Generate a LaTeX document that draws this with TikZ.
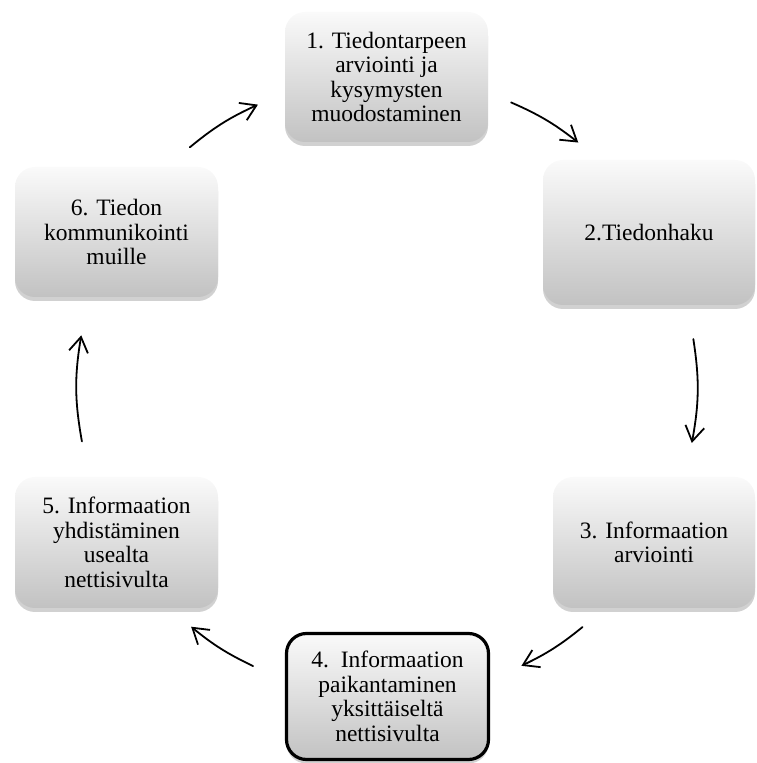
\documentclass[tikz,border=0pt]{standalone}
\usepackage{fontspec}
\setmainfont{Liberation Serif}
\usepackage{tikz}
\usetikzlibrary{arrows.meta, calc, shadows}
\definecolor{ink}{HTML}{000000}
\definecolor{boxtop}{HTML}{FAFAFA}
\definecolor{boxbottom}{HTML}{C2C2C2}
\tikzset{
  stage/.style      = {rectangle, rounded corners=20pt, align=center, inner sep=4pt,
                       minimum width=203pt, minimum height=130pt, draw=none,
                       top color=boxtop, bottom color=boxbottom, text=ink,
                       font=\fontsize{23.5}{24.5}\selectfont,
                       drop shadow={shadow xshift=0pt, shadow yshift=-4pt, opacity=0.3, fill=black!60}},
  stagehl/.style    = {stage, draw=ink, line width=3.2pt},
  cyclearrow/.style = {-{Straight Barb[length=15pt, width=19pt]}, draw=ink, line width=1.8pt,
                       line cap=round, line join=round},
}

\begin{document}
\begin{tikzpicture}[x=1pt, y=1pt]
  \useasboundingbox (0,0) rectangle (757,763);
  \coordinate (hub) at (387,376.5);

  \node[stage] (plan) at (386.5,686) {1. Tiedontarpeen\\arviointi ja\\kysymysten\\muodostaminen};
  \node[stage, minimum width=212pt, minimum height=145pt] (search) at (649,530.5) {2.Tiedonhaku};
  \node[stage, minimum width=202pt, minimum height=131pt] (judge) at (654,220.5) {3. Informaation\\arviointi};
  \node[stagehl, minimum width=202pt, minimum height=126pt] (locate) at (387.5,66.5) {4.\ \ Informaation\\paikantaminen\\yksittäiseltä\\nettisivulta};
  \node[stage, minimum height=131pt] (merge) at (116.5,220.5) {5. Informaation\\yhdistäminen\\usealta\\nettisivulta};
  \node[stage] (share) at (116.5,531) {6. Tiedon\\kommunikointi\\muille};

  % arrows sit on one ring round the hub
  \foreach \nm/\s/\e in {61/129.5/114.6, 12/66.4/51.9, 23/8.8/-10.5,
                         34/-50.9/-64.3, 45/-115.6/-129.2, 56/-169.8/-189.5}{
    \pgfmathsetmacro{\bend}{(\s-\e)/2}
    \coordinate (s\nm) at ($(hub)+(\s:310)$);
    \coordinate (e\nm) at ($(hub)+(\e:310)$);
    \draw[cyclearrow] (s\nm) to[bend left=\bend] (e\nm);
  }
\end{tikzpicture}
\end{document}
